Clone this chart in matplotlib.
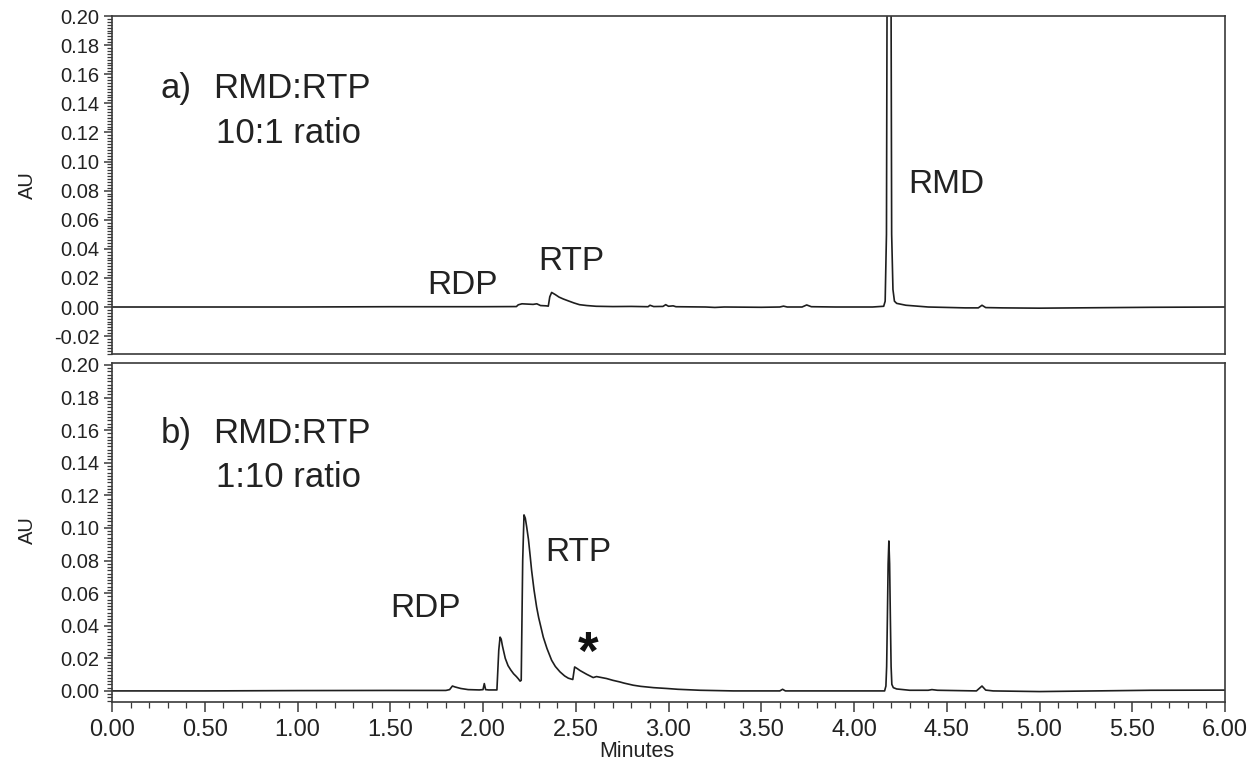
import matplotlib
matplotlib.use("Agg")
import matplotlib.pyplot as plt
from matplotlib.ticker import MultipleLocator, FormatStrFormatter

plt.rcParams['font.family'] = ['Liberation Sans', 'DejaVu Sans']

# ---- data ----
time_a = [0.0, 1.0, 1.5, 2.0, 2.18, 2.19, 2.21, 2.24, 2.27, 2.29, 2.31, 2.34, 2.352,
          2.36, 2.37, 2.39, 2.41, 2.433, 2.46, 2.49, 2.52, 2.56, 2.61, 2.70, 2.80,
          2.89, 2.90, 2.92, 2.97, 2.985, 3.00, 3.025, 3.04, 3.20, 3.25, 3.30, 3.50,
          3.60, 3.62, 3.64, 3.72, 3.745, 3.77, 3.90, 4.10, 4.16, 4.168, 4.175, 4.178,
          4.183, 4.189, 4.195, 4.200, 4.203, 4.21, 4.218, 4.23, 4.28, 4.40, 4.60,
          4.67, 4.69, 4.71, 4.80, 5.00, 5.30, 5.60, 6.00]
au_a = [0.0, 0.0, 0.0002, 0.0002, 0.0003, 0.0015, 0.0022, 0.0020, 0.0018, 0.0022,
        0.0010, 0.0008, 0.0006, 0.0070, 0.0100, 0.0085, 0.0068, 0.0055, 0.0042,
        0.0028, 0.0016, 0.0010, 0.0005, 0.0003, 0.0004, 0.0002, 0.0012, 0.0003,
        0.0004, 0.0016, 0.0005, 0.0008, 0.0002, 0.0, -0.0003, 0.0, -0.0002, 0.0,
        0.0006, 0.0, 0.0, 0.0014, 0.0002, 0.0, 0.0, 0.0005, 0.004, 0.05, 0.2,
        0.6, 0.9, 0.6, 0.2, 0.05, 0.012, 0.004, 0.0025, 0.0012, 0.0, -0.0006,
        -0.0006, 0.0012, -0.0004, -0.0006, -0.0008, -0.0005, -0.0002, 0.0]

time_b = [0.0, 0.5, 1.0, 1.5, 1.80, 1.82, 1.835, 1.85, 1.88, 1.92, 1.98, 2.000, 2.007,
          2.014, 2.03, 2.075, 2.085, 2.092, 2.098, 2.105, 2.12, 2.135, 2.15, 2.165,
          2.18, 2.19, 2.200, 2.206, 2.214, 2.221, 2.228, 2.235, 2.245, 2.255, 2.262,
          2.275, 2.289, 2.30, 2.325, 2.345, 2.370, 2.39, 2.415, 2.44, 2.46, 2.484,
          2.494, 2.508, 2.523, 2.559, 2.594, 2.612, 2.666, 2.70, 2.738, 2.76, 2.81,
          2.85, 2.92, 2.99, 3.05, 3.17, 3.35, 3.60, 3.615, 3.63, 3.80, 4.10, 4.165,
          4.172, 4.176, 4.180, 4.184, 4.188, 4.192, 4.196, 4.200, 4.204, 4.212, 4.23,
          4.30, 4.40, 4.42, 4.45, 4.66, 4.69, 4.71, 4.75, 5.00, 5.30, 5.60, 6.00]
au_b = [0.0, 0.0, 0.0002, 0.0003, 0.0003, 0.0008, 0.0030, 0.0024, 0.0015, 0.0008,
        0.0006, 0.0008, 0.0045, 0.0008, 0.0006, 0.0006, 0.0250, 0.0330, 0.0318,
        0.0275, 0.0200, 0.0155, 0.0128, 0.0105, 0.0088, 0.0075, 0.0060, 0.0065,
        0.0800, 0.1080, 0.1060, 0.1010, 0.0930, 0.0820, 0.0740, 0.0620, 0.0515,
        0.0450, 0.0330, 0.0260, 0.0188, 0.0150, 0.0117, 0.0092, 0.0078, 0.0070,
        0.0147, 0.0137, 0.0125, 0.0102, 0.0082, 0.0088, 0.0076, 0.0065, 0.0055,
        0.0048, 0.0035, 0.0028, 0.0020, 0.0015, 0.0010, 0.0004, 0.0, 0.0, 0.0010,
        0.0, 0.0, 0.0, 0.0, 0.003, 0.015, 0.045, 0.078, 0.092, 0.078, 0.045, 0.015,
        0.004, 0.002, 0.0012, 0.0004, 0.0004, 0.0008, 0.0004, 0.0, 0.0030, 0.0005,
        0.0, -0.0004, 0.0, 0.0004, 0.0005]

x_ticks = [0.0, 0.5, 1.0, 1.5, 2.0, 2.5, 3.0, 3.5, 4.0, 4.5, 5.0, 5.5, 6.0]
y_ticks_a = [-0.02, 0.0, 0.02, 0.04, 0.06, 0.08, 0.10, 0.12, 0.14, 0.16, 0.18, 0.20]
y_ticks_b = [0.0, 0.02, 0.04, 0.06, 0.08, 0.10, 0.12, 0.14, 0.16, 0.18, 0.20]

peak_labels_a = [("RDP", 1.70, 0.015), ("RTP", 2.30, 0.031), ("RMD", 4.29, 0.084)]
peak_labels_b = [("RDP", 1.50, 0.0505), ("RTP", 2.335, 0.085)]

W, H = 1252, 767
fig = plt.figure(figsize=(W / 100, H / 100), dpi=100)

L, R = 112 / W, 1225 / W
ax_a = fig.add_axes([L, 1 - 354 / H, R - L, (354 - 16) / H])
ax_b = fig.add_axes([L, 1 - 702 / H, R - L, (702 - 363) / H])

line_col = '#1e1e1e'
spine_col = '#3a3a3a'
txt_col = '#222222'

ax_a.plot(time_a, au_a, color=line_col, lw=1.2)
ax_b.plot(time_b, au_b, color=line_col, lw=1.2)

ax_a.set_ylim(-0.0323, 0.200)
ax_b.set_ylim(-0.0068, 0.2012)

for ax, yt in ((ax_a, y_ticks_a), (ax_b, y_ticks_b)):
    ax.set_xlim(0, 6.0)
    ax.set_yticks(yt)
    ax.yaxis.set_major_formatter(FormatStrFormatter('%.2f'))
    ax.yaxis.set_minor_locator(MultipleLocator(0.002))
    for s in ax.spines.values():
        s.set_color(spine_col)
        s.set_linewidth(1.2)
    ax.tick_params(axis='y', which='major', direction='out', length=6, width=1.1,
                   color=spine_col, labelsize=14.5, labelcolor=txt_col, pad=3)
    ax.tick_params(axis='y', which='minor', direction='out', length=3.5, width=0.9,
                   color=spine_col)
    ax.tick_params(axis='y', which='both', right=False)
    ax.set_facecolor('white')

ax_a.tick_params(axis='x', which='both', bottom=False, top=False, labelbottom=False)

ax_b.set_xticks(x_ticks)
ax_b.xaxis.set_major_formatter(FormatStrFormatter('%.2f'))
ax_b.xaxis.set_minor_locator(MultipleLocator(0.1))
ax_b.tick_params(axis='x', which='major', direction='out', length=7, width=1.1,
                 color=spine_col, labelsize=17, labelcolor=txt_col, pad=5, top=False)
ax_b.tick_params(axis='x', which='minor', direction='out', length=4, width=0.9,
                 color=spine_col, top=False)
ax_b.set_xlabel('Minutes', fontsize=15.5, color=txt_col)
ax_b.xaxis.set_label_coords((637 - 112) / (1225 - 112), -0.115)

fig.text(27 / W, 1 - 185 / H, 'AU', rotation=90, fontsize=14.5, color=txt_col,
         ha='center', va='center')
fig.text(27 / W, 1 - 530 / H, 'AU', rotation=90, fontsize=14.5, color=txt_col,
         ha='center', va='center')

# panel captions
big = 25
ax_a.text(0.26, 0.150, 'a)', fontsize=big, color=txt_col, va='center', ha='left')
ax_a.text(0.545, 0.150, 'RMD:RTP', fontsize=big, color=txt_col, va='center', ha='left')
ax_a.text(0.56, 0.1195, '10:1 ratio', fontsize=big, color=txt_col, va='center', ha='left')
ax_b.text(0.26, 0.158, 'b)', fontsize=big, color=txt_col, va='center', ha='left')
ax_b.text(0.545, 0.158, 'RMD:RTP', fontsize=big, color=txt_col, va='center', ha='left')
ax_b.text(0.56, 0.131, '1:10 ratio', fontsize=big, color=txt_col, va='center', ha='left')

for name, tx, ty in peak_labels_a:
    ax_a.text(tx, ty, name, fontsize=24, color=txt_col, va='center', ha='left')
for name, tx, ty in peak_labels_b:
    ax_b.text(tx, ty, name, fontsize=24, color=txt_col, va='center', ha='left')
ax_b.text(2.566, 0.022, '*', fontsize=38, fontweight='bold', color='#111111',
          va='center', ha='center')

fig.savefig('out.png', dpi=100, facecolor='white')
